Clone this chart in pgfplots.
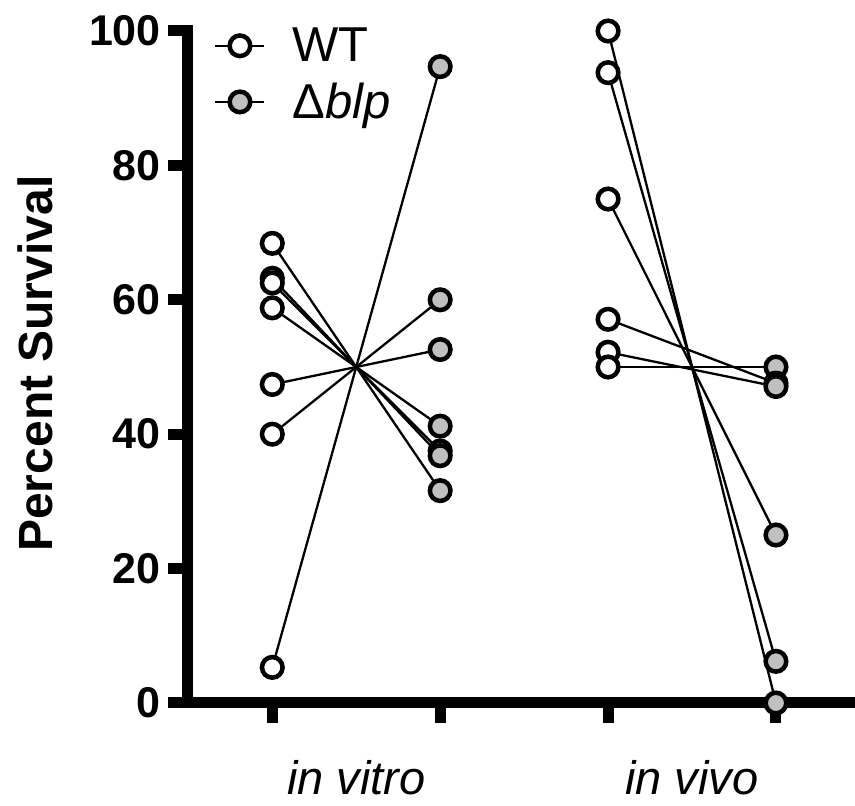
\documentclass[border=0pt]{standalone}
\usepackage{fontspec}
\setmainfont{Liberation Sans}
\usepackage{pgfplots}
\pgfplotsset{compat=1.18}
\definecolor{blpgray}{RGB}{192,192,192}

% paired survival values, one row per animal/sample
\pgfplotstableread{
x y
1 68.4
1 63.2
1 62.5
1 58.8
1 47.4
1 40.0
1 5.3
3 100
3 93.8
3 75.0
3 57.1
3 52.2
3 50.0
}\wt
\pgfplotstableread{
x y
2 94.7
2 60.0
2 52.6
2 41.2
2 37.5
2 36.8
2 31.6
4 50.0
4 47.6
4 47.1
4 25.0
4 6.2
4 0.0
}\blp

\begin{document}
\begin{tikzpicture}[x=1pt,y=1pt]
\path[use as bounding box] (0,0) rectangle (855,806);
\begin{axis}[
  at={(188pt,103pt)}, anchor=south west,
  scale only axis, width=662pt, height=672pt,
  xmin=0.498, xmax=4.441, ymin=0, ymax=100,
  clip=false,
  axis x line*=bottom, axis y line*=left,
  axis line style={-, line width=11pt, line cap=rect},
  tick align=outside, major tick length=20pt,
  tick style={line width=11pt, black},
  xtick={1,2,3,4}, xticklabels={},
  ytick={0,20,40,60,80,100},
  /pgf/number format/assume math mode=true,
  yticklabel style={font=\bfseries\fontsize{43}{43}\selectfont, anchor=east, inner sep=0pt, xshift=-7pt},
  extra x ticks={1.5,3.5},
  extra x tick labels={\textit{in vitro},\textit{in vivo}},
  extra x tick style={major tick length=0pt, tick style={draw=none},
    xticklabel style={font=\fontsize{47}{47}\selectfont, anchor=base, inner sep=0pt, yshift=-92pt}},
  ylabel={Percent Survival},
  every axis y label/.style={at={(axis description cs:-0.231,0.505)}, rotate=90, anchor=center,
    font=\bfseries\fontsize{48}{48}\selectfont},
  legend image code/.code={
    \draw[#1, mark=none] (0pt,0pt) -- (49pt,0pt);
    \draw[#1] plot coordinates {(24.5pt,0pt)};
  },
  legend style={at={(rel axis cs:0,1)}, anchor=north west, xshift=26pt, yshift=3pt,
    draw=none, fill=none, inner sep=0pt, row sep=20pt, column sep=27pt,
    font=\fontsize{49}{49}\selectfont, nodes={inner sep=0pt}},
  legend cell align=left,
]
\addlegendimage{black, line width=2.5pt, mark=*, mark size=10.3pt, mark options={fill=white, line width=4.5pt}}
\addlegendentry{WT}
\addlegendimage{black, line width=2.5pt, mark=*, mark size=10.3pt, mark options={fill=blpgray, line width=4.5pt}}
\addlegendentry{Δ\textit{blp}}

% lines joining each pair
\addplot[black, line width=2.3pt, forget plot] coordinates {(1,68.4) (2,31.6)};
\addplot[black, line width=2.3pt, forget plot] coordinates {(1,63.2) (2,36.8)};
\addplot[black, line width=2.3pt, forget plot] coordinates {(1,62.5) (2,37.5)};
\addplot[black, line width=2.3pt, forget plot] coordinates {(1,58.8) (2,41.2)};
\addplot[black, line width=2.3pt, forget plot] coordinates {(1,47.4) (2,52.6)};
\addplot[black, line width=2.3pt, forget plot] coordinates {(1,40.0) (2,60.0)};
\addplot[black, line width=2.3pt, forget plot] coordinates {(1,5.3) (2,94.7)};
\addplot[black, line width=2.3pt, forget plot] coordinates {(3,100) (4,0.0)};
\addplot[black, line width=2.3pt, forget plot] coordinates {(3,93.8) (4,6.2)};
\addplot[black, line width=2.3pt, forget plot] coordinates {(3,75.0) (4,25.0)};
\addplot[black, line width=2.3pt, forget plot] coordinates {(3,57.1) (4,47.6)};
\addplot[black, line width=2.3pt, forget plot] coordinates {(3,52.2) (4,47.1)};
\addplot[black, line width=2.3pt, forget plot] coordinates {(3,50.0) (4,50.0)};

% markers on top
\addplot[only marks, mark=*, mark size=10.3pt, mark options={draw=black, fill=white, line width=4.5pt}, forget plot] table {\wt};
\addplot[only marks, mark=*, mark size=10.3pt, mark options={draw=black, fill=blpgray, line width=4.5pt}, forget plot] table {\blp};
\end{axis}
\end{tikzpicture}
\end{document}
